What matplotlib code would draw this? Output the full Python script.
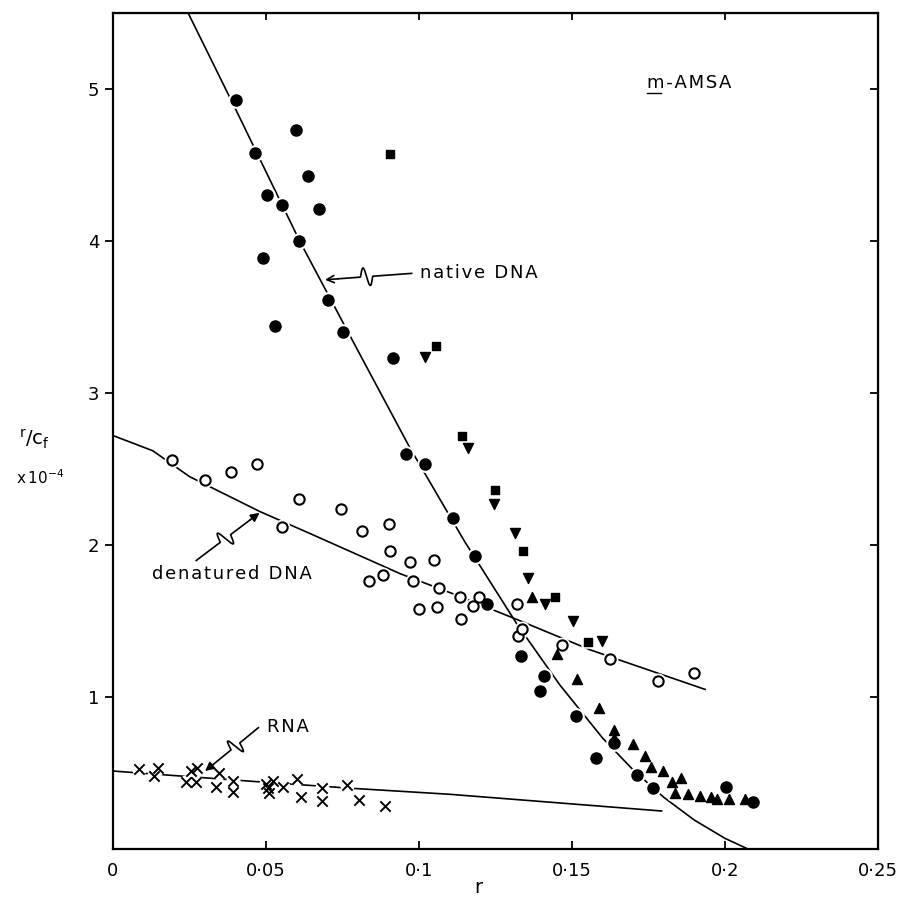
import numpy as np
import matplotlib.pyplot as plt

# native DNA, filled circles
nat_r = [0.0403, 0.0463, 0.0491, 0.0504, 0.0530, 0.0552, 0.0597, 0.0609, 0.0638, 0.0672,
         0.0704, 0.0753, 0.0916, 0.0958, 0.1020, 0.1112, 0.1184, 0.1221, 0.1333, 0.1397,
         0.1410, 0.1513, 0.1580, 0.1636, 0.1714, 0.1765, 0.2003, 0.2093]
nat_y = [4.93, 4.58, 3.89, 4.30, 3.44, 4.24, 4.73, 4.00, 4.43, 4.21,
         3.61, 3.40, 3.23, 2.60, 2.53, 2.18, 1.93, 1.61, 1.27, 1.04,
         1.14, 0.875, 0.60, 0.70, 0.49, 0.40, 0.41, 0.31]

# native DNA, other runs (squares, down / up triangles)
sq_r = [0.0904, 0.1056, 0.1141, 0.1249, 0.1341, 0.1445, 0.1553]
sq_y = [4.57, 3.31, 2.72, 2.36, 1.96, 1.66, 1.36]

tdn_r = [0.1020, 0.1161, 0.1245, 0.1315, 0.1355, 0.1413, 0.1502, 0.1599]
tdn_y = [3.24, 2.64, 2.27, 2.08, 1.78, 1.61, 1.50, 1.37]

tup_r = [0.1369, 0.1450, 0.1515, 0.1588, 0.1636, 0.1636, 0.1698, 0.1739, 0.1757, 0.1798,
         0.1827, 0.1855, 0.1838, 0.1879, 0.1918, 0.1954, 0.1974, 0.2014, 0.2064]
tup_y = [1.66, 1.28, 1.12, 0.93, 0.78, 0.73, 0.69, 0.61, 0.54, 0.51,
         0.44, 0.47, 0.37, 0.36, 0.35, 0.34, 0.33, 0.33, 0.33]

# denatured DNA, open circles
den_r = [0.0194, 0.0302, 0.0385, 0.0472, 0.0553, 0.0607, 0.0744, 0.0815, 0.0837, 0.0882,
         0.0902, 0.0904, 0.0969, 0.0980, 0.1000, 0.1048, 0.1059, 0.1064, 0.1134, 0.1136,
         0.1176, 0.1195, 0.1321, 0.1325, 0.1335, 0.1466, 0.1624, 0.1780, 0.1900]
den_y = [2.56, 2.43, 2.48, 2.53, 2.12, 2.30, 2.24, 2.09, 1.76, 1.80,
         2.14, 1.96, 1.89, 1.76, 1.58, 1.90, 1.59, 1.72, 1.66, 1.51,
         1.60, 1.66, 1.61, 1.40, 1.45, 1.34, 1.25, 1.105, 1.155]

# RNA, crosses
rna_r = [0.0086, 0.0135, 0.0148, 0.0239, 0.0255, 0.0273, 0.0270, 0.0337, 0.0345, 0.0393,
         0.0393, 0.0500, 0.0505, 0.0511, 0.0524, 0.0557, 0.0600, 0.0614, 0.0682, 0.0684,
         0.0764, 0.0805, 0.0889]
rna_y = [0.524, 0.48, 0.53, 0.44, 0.51, 0.535, 0.44, 0.41, 0.50, 0.45,
         0.375, 0.43, 0.40, 0.37, 0.45, 0.41, 0.46, 0.34, 0.40, 0.315,
         0.42, 0.325, 0.28]

# curves as drawn on the figure
natfit_r = [0.0248, 0.040, 0.061, 0.080, 0.097, 0.115, 0.132, 0.146, 0.160, 0.170, 0.180, 0.190, 0.200, 0.2075]
natfit_y = [5.49, 4.87, 4.00, 3.28, 2.64, 2.02, 1.48, 1.08, 0.73, 0.52, 0.34, 0.19, 0.07, 0.0]
denfit_r = [0.0, 0.013, 0.025, 0.048, 0.065, 0.094, 0.111, 0.132, 0.156, 0.166, 0.1935]
denfit_y = [2.72, 2.62, 2.45, 2.22, 2.07, 1.81, 1.68, 1.51, 1.31, 1.24, 1.05]
rnafit_r = [0.0, 0.049, 0.0775, 0.110, 0.1793]
rnafit_y = [0.513, 0.44, 0.40, 0.36, 0.25]

xticks = [0, 0.05, 0.1, 0.15, 0.2, 0.25]
xticklabels = ['0', '0·05', '0·1', '0·15', '0·2', '0·25']
yticks = [1, 2, 3, 4, 5]

HS = '\u200a'  # hair space, the lettering is widely spaced


def spaced(s):
    return HS.join(s)


fig = plt.figure(figsize=(9, 8.97), dpi=100)
ax = fig.add_axes([113/900, 48/897, 765/900, 836/897])
ax.set_xlim(0, 0.25)
ax.set_ylim(0, 5.5)

for s in ax.spines.values():
    s.set_linewidth(1.6)

ax.set_xticks(xticks)
ax.set_xticklabels(xticklabels)
ax.set_yticks(yticks)
ax.tick_params(axis='x', direction='in', length=6, width=1.3, labelsize=13, pad=9)
ax.tick_params(axis='y', direction='out', length=6, width=1.3, labelsize=13, pad=4)

top = ax.secondary_xaxis('top')
top.set_xticks(xticks[1:-1])
top.tick_params(direction='in', length=5, width=1.3, labeltop=False)
right = ax.secondary_yaxis('right')
right.set_yticks(yticks)
right.tick_params(direction='in', length=6, width=1.3, labelright=False)

ax.set_xlabel('r', fontsize=14)
ax.xaxis.set_label_coords(0.478, -0.035)

fig.text(0.038, 0.51, r'$\mathregular{^{r}/c_{f}}$', fontsize=14, ha='center', va='center')
fig.text(0.045, 0.468, r'$\mathregular{x\,10^{-4}}$', fontsize=11, ha='center', va='center')

# lines
kw = dict(color='black', lw=1.2, zorder=2)
ax.plot(natfit_r, natfit_y, **kw)
ax.plot(denfit_r, denfit_y, **kw)
ax.plot(rnafit_r, rnafit_y, **kw)

# white halos so the lines break around the points
for r, y, m, s in [(nat_r, nat_y, 'o', 64), (sq_r, sq_y, 's', 30), (tdn_r, tdn_y, 'v', 50),
                   (tup_r, tup_y, '^', 50), (den_r, den_y, 'o', 55), (rna_r, rna_y, 'o', 40)]:
    ax.scatter(r, y, marker=m, s=s, c='white', edgecolors='white', linewidths=4, zorder=3)

ax.scatter(nat_r, nat_y, marker='o', s=64, c='black', zorder=4)
ax.scatter(sq_r, sq_y, marker='s', s=32, c='black', zorder=4)
ax.scatter(tdn_r, tdn_y, marker='v', s=52, c='black', zorder=4)
ax.scatter(tup_r, tup_y, marker='^', s=52, c='black', zorder=4)
ax.scatter(den_r, den_y, marker='o', s=55, facecolors='white', edgecolors='black', linewidths=1.5, zorder=4)
ax.scatter(rna_r, rna_y, marker='x', s=55, c='black', linewidths=1.4, zorder=4)


def squiggle(start, end, frac=0.5, amp=7, width=0.12, fill=False):
    T = ax.transData
    p0 = T.transform(start)
    p1 = T.transform(end)
    d = p1 - p0
    u = d / np.hypot(*d)
    n = np.array([-u[1], u[0]])
    s = np.linspace(0, 0.85, 200)
    ph = np.clip((s - frac) / width, 0, 1)
    off = amp * np.sin(ph * 2 * np.pi)
    pts = p0 + np.outer(s, d) + np.outer(off, n)
    dat = T.inverted().transform(pts)
    ax.plot(dat[:, 0], dat[:, 1], color='black', lw=1.2, zorder=5)
    ax.annotate('', xy=end, xytext=dat[-1],
                arrowprops=dict(arrowstyle='-|>' if fill else '->', color='black', lw=1.2,
                                mutation_scale=13, shrinkA=0, shrinkB=0), zorder=5)


squiggle((0.0976, 3.787), (0.0693, 3.745), frac=0.45, amp=9, width=0.14)
squiggle((0.0272, 1.898), (0.0479, 2.212), frac=0.38, amp=9, width=0.16, fill=True)
squiggle((0.0475, 0.798), (0.0301, 0.513), frac=0.35, amp=9, width=0.16, fill=True)

ax.text(0.1003, 3.79, spaced('native DNA'), fontsize=13, ha='left', va='center')
ax.text(0.0127, 1.81, spaced('denatured DNA'), fontsize=13, ha='left', va='center')
ax.text(0.0503, 0.80, spaced('RNA'), fontsize=13, ha='left', va='center')
ax.text(0.1745, 5.04, spaced('m-AMSA'), fontsize=13, ha='left', va='center')
ax.plot([0.1745, 0.1790], [4.975, 4.975], color='black', lw=1.0)

fig.savefig('out.png', dpi=100)
